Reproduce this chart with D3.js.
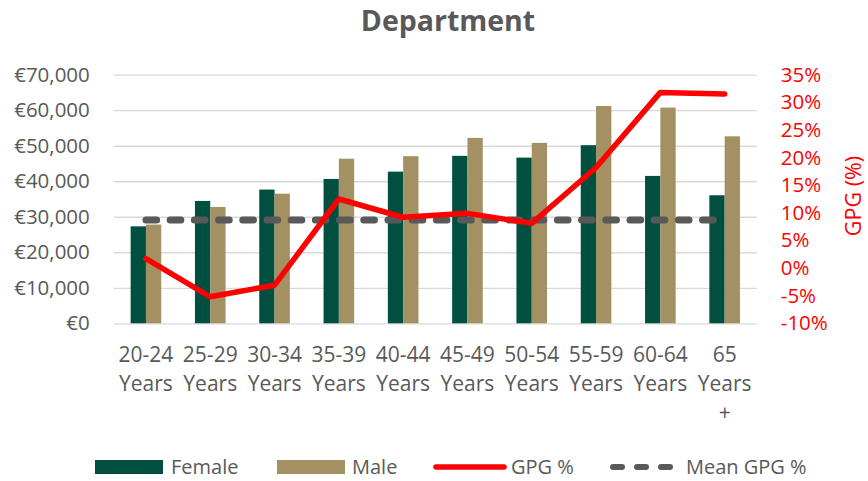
<!DOCTYPE html>
<html>
<head>
<meta charset="utf-8">
<script src="https://cdn.jsdelivr.net/npm/d3@7"></script>
<style>
  body { margin: 0; background: #fff; }
  text { font-family: "Open Sans", "Noto Sans", sans-serif; }
</style>
</head>
<body>
<div id="chart"></div>
<script>
// chart values
var categories = ["20-24 Years", "25-29 Years", "30-34 Years", "35-39 Years", "40-44 Years",
  "45-49 Years", "50-54 Years", "55-59 Years", "60-64 Years", "65 Years +"];
var tickLines = [["20-24", "Years"], ["25-29", "Years"], ["30-34", "Years"], ["35-39", "Years"],
  ["40-44", "Years"], ["45-49", "Years"], ["50-54", "Years"], ["55-59", "Years"],
  ["60-64", "Years"], ["65", "Years", "+"]];
var female = [27300, 34450, 37650, 40650, 42700, 47150, 46650, 50150, 41500, 36050];
var male = [27800, 32750, 36500, 46350, 47050, 52200, 50800, 61200, 60750, 52650];
var gpg = [1.7, -5.2, -3.1, 12.5, 9.2, 9.9, 8.1, 18.2, 31.8, 31.5];
var meanGpg = 8.7;
var leftTicks = [0, 10000, 20000, 30000, 40000, 50000, 60000, 70000];
var rightTicks = [-10, -5, 0, 5, 10, 15, 20, 25, 30, 35];

var svgWidth = 868;
var svgHeight = 481;

var margin = { top: 74.7, right: 111.2, bottom: 157.7, left: 113.8 };
var width = svgWidth - margin.left - margin.right;
var height = svgHeight - margin.top - margin.bottom;

var textGrey = "#595959";
var femaleColor = "#004F40";
var maleColor = "#A39063";
var red = "#FF0000";

var svg = d3.select("#chart")
  .append("svg")
  .attr("width", svgWidth)
  .attr("height", svgHeight);

var chartGroup = svg.append("g")
  .attr("transform", `translate(${margin.left}, ${margin.top})`);

// scales
var x = d3.scaleBand()
  .domain(categories)
  .range([0, width])
  .paddingInner(0.524)
  .paddingOuter(0.262);

var xInner = d3.scaleBand()
  .domain(["female", "male"])
  .range([0, x.bandwidth()]);

var yLeft = d3.scaleLinear().domain([0, 70000]).range([height, 0]);
var yRight = d3.scaleLinear().domain([-10, 35]).range([height, 0]);

// left axis with gridlines
var leftAxis = d3.axisLeft(yLeft)
  .tickValues(leftTicks)
  .tickSize(-width)
  .tickPadding(24)
  .tickFormat(d => "€" + d3.format(",")(d));

var yAxis = chartGroup.append("g").call(leftAxis);
yAxis.select(".domain").remove();
yAxis.selectAll("line").attr("stroke", "#D9D9D9").attr("stroke-width", 1.3);
yAxis.selectAll("text")
  .attr("fill", textGrey)
  .style("font-size", "20.5px");

// right axis
var rightAxis = d3.axisRight(yRight)
  .tickValues(rightTicks)
  .tickSize(0)
  .tickPadding(24)
  .tickFormat(d => d + "%");

var y2Axis = chartGroup.append("g")
  .attr("transform", `translate(${width}, 0)`)
  .call(rightAxis);
y2Axis.select(".domain").remove();
y2Axis.selectAll("text")
  .attr("fill", red)
  .style("font-size", "20.5px");

// bottom axis, labels on several lines
var bottomAxis = d3.axisBottom(x).tickSize(0).tickFormat("");
var xAxis = chartGroup.append("g")
  .attr("transform", `translate(0, ${height})`)
  .call(bottomAxis);
xAxis.select(".domain").remove();
xAxis.selectAll(".tick").each(function(d, i) {
  var t = d3.select(this).append("text")
    .attr("fill", textGrey)
    .attr("text-anchor", "middle")
    .style("font-size", "21px");
  tickLines[i].forEach((line, j) => {
    t.append("tspan")
      .attr("x", 0)
      .attr("y", 39 + j * 29)
      .text(line);
  });
});

// bars
var groups = chartGroup.selectAll(".cat")
  .data(categories)
  .enter()
  .append("g")
  .attr("transform", d => `translate(${x(d)}, 0)`);

groups.append("rect")
  .attr("x", xInner("female"))
  .attr("y", (d, i) => yLeft(female[i]))
  .attr("width", xInner.bandwidth())
  .attr("height", (d, i) => height - yLeft(female[i]))
  .attr("fill", femaleColor);

groups.append("rect")
  .attr("x", xInner("male"))
  .attr("y", (d, i) => yLeft(male[i]))
  .attr("width", xInner.bandwidth())
  .attr("height", (d, i) => height - yLeft(male[i]))
  .attr("fill", maleColor);

var cx = d => x(d) + x.bandwidth() / 2;

// mean GPG dashed line
var meanLine = d3.line()
  .x(d => cx(d))
  .y(() => yRight(meanGpg));

chartGroup.append("path")
  .datum(categories)
  .attr("d", meanLine)
  .attr("fill", "none")
  .attr("stroke", textGrey)
  .attr("stroke-width", 7)
  .attr("stroke-linecap", "round")
  .attr("stroke-dasharray", "10.7 13.5");

// GPG line
var gpgLine = d3.line()
  .x((d, i) => cx(categories[i]))
  .y(d => yRight(d));

chartGroup.append("path")
  .datum(gpg)
  .attr("d", gpgLine)
  .attr("fill", "none")
  .attr("stroke", red)
  .attr("stroke-width", 5.5)
  .attr("stroke-linejoin", "round")
  .attr("stroke-linecap", "round");

// title
svg.append("text")
  .attr("x", 448)
  .attr("y", 31)
  .attr("text-anchor", "middle")
  .attr("fill", textGrey)
  .style("font-size", "28.5px")
  .style("font-weight", "bold")
  .text("Department");

// right axis title
svg.append("text")
  .attr("transform", "translate(861, 196) rotate(-90)")
  .attr("text-anchor", "middle")
  .attr("fill", red)
  .style("font-size", "21.5px")
  .text("GPG (%)");

// legend
var legend = svg.append("g");
var legendY = 467;

legend.append("rect")
  .attr("x", 95).attr("y", legendY - 7)
  .attr("width", 68).attr("height", 14)
  .attr("fill", femaleColor);
legend.append("text")
  .attr("x", 171).attr("y", legendY + 7)
  .attr("fill", textGrey).style("font-size", "20px")
  .text("Female");

legend.append("rect")
  .attr("x", 277).attr("y", legendY - 7)
  .attr("width", 68).attr("height", 14)
  .attr("fill", maleColor);
legend.append("text")
  .attr("x", 352).attr("y", legendY + 7)
  .attr("fill", textGrey).style("font-size", "20px")
  .text("Male");

legend.append("line")
  .attr("x1", 436).attr("x2", 504)
  .attr("y1", legendY).attr("y2", legendY)
  .attr("stroke", red).attr("stroke-width", 5.5)
  .attr("stroke-linecap", "round");
legend.append("text")
  .attr("x", 511).attr("y", legendY + 7)
  .attr("fill", textGrey).style("font-size", "20px")
  .text("GPG %");

legend.append("line")
  .attr("x1", 613).attr("x2", 672)
  .attr("y1", legendY).attr("y2", legendY)
  .attr("stroke", textGrey).attr("stroke-width", 6)
  .attr("stroke-linecap", "round")
  .attr("stroke-dasharray", "9 15");
legend.append("text")
  .attr("x", 686).attr("y", legendY + 7)
  .attr("fill", textGrey).style("font-size", "20px")
  .text("Mean GPG %");
</script>
</body>
</html>
